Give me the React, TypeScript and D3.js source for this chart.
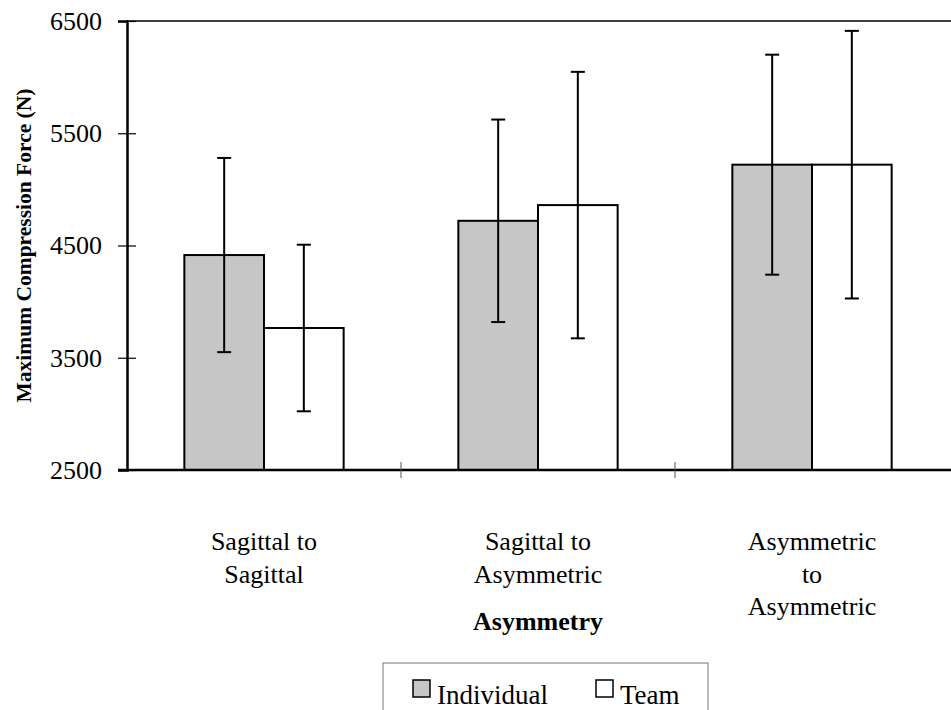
import React, { useEffect, useRef } from 'react';
import * as d3 from 'd3';

const categories = ['Sagittal to Sagittal', 'Sagittal to Asymmetric', 'Asymmetric to Asymmetric'];
const categoryLines = [
  ['Sagittal to', 'Sagittal'],
  ['Sagittal to', 'Asymmetric'],
  ['Asymmetric', 'to', 'Asymmetric'],
];
const seriesNames = ['Individual', 'Team'];
const individualMeans = [4415, 4720, 5220];
const individualSD = [865, 902, 980];
const teamMeans = [3765, 4860, 5220];
const teamSD = [742, 1187, 1192];
const yTicks = [2500, 3500, 4500, 5500, 6500];

const seriesFill: Record<string, string> = { Individual: '#c6c6c6', Team: '#ffffff' };

const App: React.FC = () => {
  const ref = useRef<SVGSVGElement | null>(null);

  useEffect(() => {
    document.body.style.margin = '0';
    if (!ref.current) return;
    const svg = d3.select(ref.current);
    svg.selectAll('*').remove();

    const width = 951;
    const left = 127, right = 949, top = 21, bottom = 470;
    const font = "'Liberation Serif', 'DejaVu Serif', serif";

    const x0 = d3.scaleBand<string>().domain(categories).range([left, right]).paddingInner(0).paddingOuter(0);
    const x1 = d3.scaleBand<string>().domain(seriesNames).range([0, x0.bandwidth()]).paddingInner(0).paddingOuter(0.72);
    const y = d3.scaleLinear().domain([2500, 6500]).range([bottom, top]);

    const rows = categories.flatMap((c, i) => [
      { cat: c, series: 'Individual', mean: individualMeans[i], sd: individualSD[i] },
      { cat: c, series: 'Team', mean: teamMeans[i], sd: teamSD[i] },
    ]);

    // frame top line
    svg.append('line')
      .attr('x1', left).attr('x2', width).attr('y1', top).attr('y2', top)
      .attr('stroke', '#000').attr('stroke-width', 1.5);

    // bars
    svg.append('g').selectAll('rect')
      .data(rows)
      .enter().append('rect')
      .attr('x', d => x0(d.cat)! + x1(d.series)!)
      .attr('y', d => y(d.mean))
      .attr('width', x1.bandwidth())
      .attr('height', d => bottom - y(d.mean))
      .attr('fill', d => seriesFill[d.series])
      .attr('stroke', '#000')
      .attr('stroke-width', 2);

    // error bars
    const eg = svg.append('g').attr('stroke', '#000').attr('stroke-width', 2);
    rows.forEach(d => {
      const cx = x0(d.cat)! + x1(d.series)! + x1.bandwidth() / 2;
      const yt = y(d.mean + d.sd);
      const yb = y(d.mean - d.sd);
      eg.append('line').attr('x1', cx).attr('x2', cx).attr('y1', yt).attr('y2', yb);
      eg.append('line').attr('x1', cx - 7).attr('x2', cx + 7).attr('y1', yt).attr('y2', yt);
      eg.append('line').attr('x1', cx - 7).attr('x2', cx + 7).attr('y1', yb).attr('y2', yb);
    });

    // y axis
    const yAxis = svg.append('g')
      .attr('transform', `translate(${left},0)`)
      .call(d3.axisLeft(y).tickValues(yTicks).tickSize(9).tickPadding(16).tickFormat(d3.format('d')));
    yAxis.attr('font-family', null);
    yAxis.select('.domain').attr('stroke-width', 2.5);
    yAxis.selectAll('.tick line').attr('x2', 9).attr('x1', -9).attr('stroke-width', 1.2);
    yAxis.selectAll('text').style('font-family', font).style('font-size', '26px').attr('fill', '#000');

    // x axis
    svg.append('line')
      .attr('x1', left - 9).attr('x2', width).attr('y1', bottom).attr('y2', bottom)
      .attr('stroke', '#000').attr('stroke-width', 2.5);
    const sepTicks = categories.slice(1).map(c => x0(c)!);
    svg.append('g').selectAll('line')
      .data(sepTicks)
      .enter().append('line')
      .attr('x1', d => d).attr('x2', d => d)
      .attr('y1', bottom - 8).attr('y2', bottom + 8)
      .attr('stroke', '#555').attr('stroke-width', 1);

    // category labels
    categories.forEach((c, i) => {
      const cx = x0(c)! + x0.bandwidth() / 2;
      const t = svg.append('text')
        .attr('x', cx).attr('y', 550)
        .attr('text-anchor', 'middle')
        .style('font-family', font).style('font-size', '26px');
      categoryLines[i].forEach((line, j) => {
        t.append('tspan').attr('x', cx).attr('dy', j === 0 ? 0 : 32.5).text(line);
      });
    });

    // axis titles
    svg.append('text')
      .attr('x', x0(categories[1])! + x0.bandwidth() / 2).attr('y', 630)
      .attr('text-anchor', 'middle')
      .style('font-family', font).style('font-size', '26px').style('font-weight', 'bold')
      .text('Asymmetry');

    svg.append('text')
      .attr('transform', `translate(31,${(top + bottom) / 2}) rotate(-90)`)
      .attr('text-anchor', 'middle')
      .style('font-family', font).style('font-size', '21.5px').style('font-weight', 'bold')
      .text('Maximum Compression Force (N)');

    // legend
    const lg = svg.append('g');
    lg.append('rect')
      .attr('x', 383).attr('y', 663).attr('width', 325).attr('height', 60)
      .attr('fill', 'none').attr('stroke', '#777').attr('stroke-width', 1);
    const legendX = [413, 596];
    seriesNames.forEach((s, i) => {
      lg.append('rect')
        .attr('x', legendX[i]).attr('y', 680).attr('width', 17).attr('height', 17)
        .attr('fill', seriesFill[s]).attr('stroke', '#000').attr('stroke-width', 1.5);
      lg.append('text')
        .attr('x', legendX[i] + 24).attr('y', 704)
        .style('font-family', font).style('font-size', '27px')
        .text(s);
    });
  }, []);

  return <svg ref={ref} width={951} height={710} style={{ display: 'block', background: '#fff' }} />;
};

export default App;
